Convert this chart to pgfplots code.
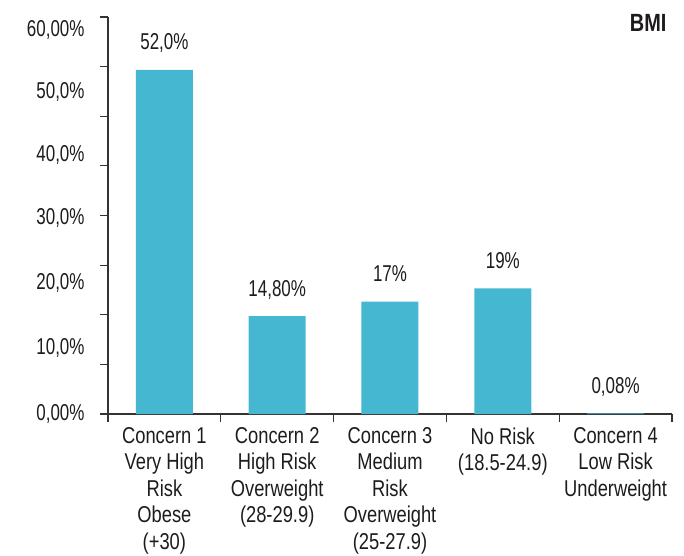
\documentclass[border=0pt]{standalone}
\usepackage{fontspec}
\setmainfont{Liberation Sans}[FakeStretch=0.8]
\newfontfamily\numfont{Liberation Sans}[FakeStretch=0.74]
\usepackage{pgfplots}
\pgfplotsset{compat=1.18}
\usepackage{pgfplotstable}

\definecolor{barblue}{HTML}{46B7D1}
\definecolor{axisgray}{HTML}{333333}
\definecolor{txt}{HTML}{1E1B1C}

% category index, share in percent, printed label (without the % sign)
\pgfplotstableread{
x y lab
0 52.0 52,0
1 14.8 14,80
2 17.0 17
3 19.0 19
4 0.08 0,08
}\bmidata

\begin{document}
\begin{tikzpicture}[font=\fontsize{23}{26.5}\selectfont, text=txt]
\useasboundingbox (-108bp,-142bp) rectangle (576bp,414bp);
\begin{axis}[
  at={(0,0)}, anchor=south west,
  scale only axis, width=564bp, height=397bp,
  xmin=-0.5, xmax=4.5, ymin=0, ymax=60,
  axis lines=left, axis line style={-, axisgray, line width=1.3bp},
  tick align=outside, major tick length=8bp,
  tick style={axisgray, line width=1.2bp},
  xtick={-0.5,0.5,...,4.5}, xticklabels={},
  ytick={0,7.5,...,60}, yticklabels={},
  extra x ticks={0,1,2,3,4},
  extra x tick labels={
    {Concern 1\\Very High\\Risk\\Obese\\(+30)},
    {Concern 2\\High Risk\\Overweight\\(28-29.9)},
    {Concern 3\\Medium\\Risk\\Overweight\\(25-27.9)},
    {No Risk\\(18.5-24.9)},
    {Concern 4\\Low Risk\\Underweight}},
  extra x tick style={major tick length=0pt,
    xticklabel style={align=center, anchor=north, yshift=-10bp}},
  extra y ticks={0,10,19.8,29.6,39.1,48.6,58},
  extra y tick labels={{0,00\%},{10,0\%},{20,0\%},{30,0\%},{40,0\%},{50,0\%},{60,00\%}},
  extra y tick style={major tick length=0pt,
    yticklabel style={anchor=east, xshift=-20bp, font=\fontsize{23}{26.5}\numfont}},
  clip=false,
]
\addplot[ybar, bar width=57bp, fill=barblue, draw=none,
  point meta=explicit symbolic,
  nodes near coords={\pgfplotspointmeta\%},
  every node near coord/.append style={anchor=base, yshift=20bp, text=txt,
    font=\fontsize{23}{26.5}\numfont}]
  table[x=x, y=y, meta=lab] {\bmidata};
\node[anchor=base east, font=\fontsize{25}{26.5}\selectfont\bfseries]
  at (rel axis cs:1,1) [xshift=-2bp, yshift=-14bp] {BMI};
\end{axis}
\end{tikzpicture}
\end{document}
